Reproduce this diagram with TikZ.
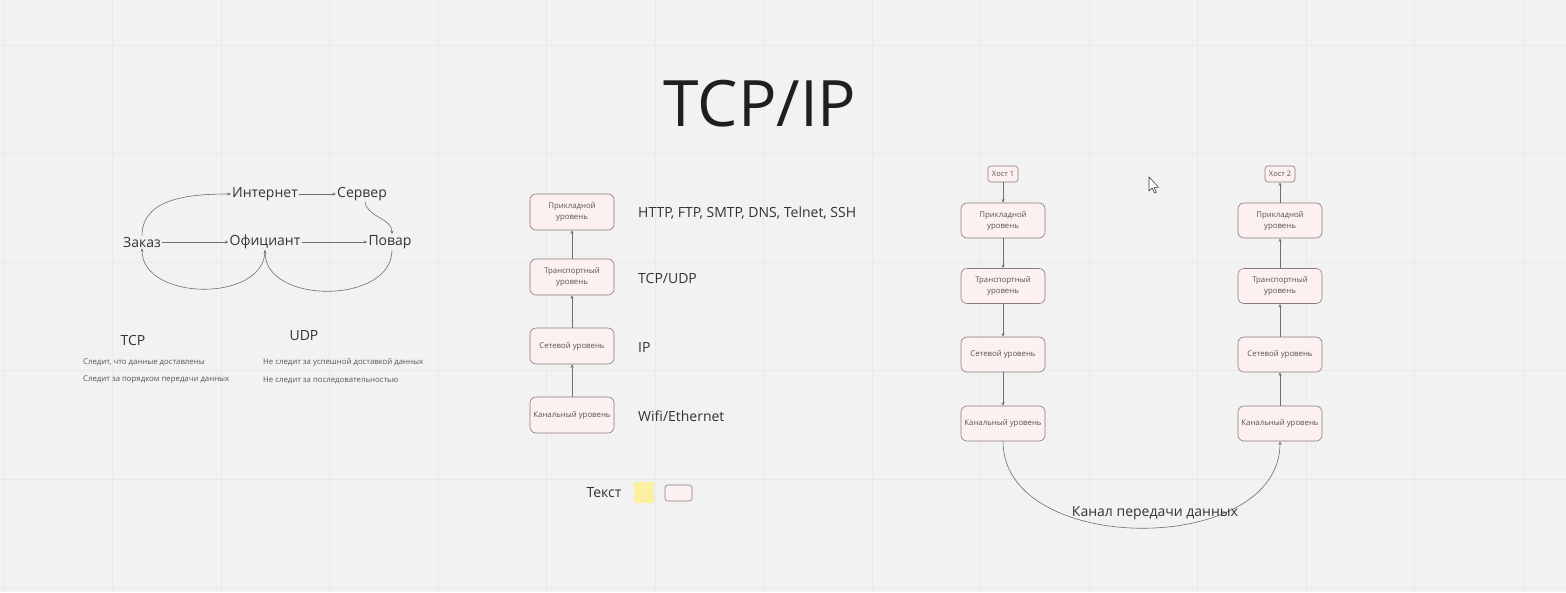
\documentclass[tikz,border=0pt]{standalone}
\usepackage{fontspec}
\setmainfont{Open Sans}
\usetikzlibrary{arrows.meta,positioning}
\definecolor{bg}{HTML}{F2F2F2}
\definecolor{gridc}{HTML}{E9E9E9}
\definecolor{linec}{HTML}{6E6E6E}
\definecolor{boxfill}{HTML}{FDF0F0}
\definecolor{boxdraw}{HTML}{8C7B7B}
\definecolor{txt}{HTML}{333333}
\definecolor{smalltxt}{HTML}{555555}
\definecolor{sticky}{HTML}{FBEFA2}
\tikzset{
  conn/.style={draw=linec, line width=0.6pt, -{Stealth[length=3.5pt,width=3pt]}},
  plainconn/.style={draw=linec, line width=0.6pt},
  word/.style={font=\fontsize{14}{16}\selectfont, text=txt, inner sep=1pt},
  label14/.style={font=\fontsize{14}{16}\selectfont, text=txt, anchor=west, inner sep=0pt},
  tiny/.style={font=\fontsize{7.8}{9}\selectfont, text=smalltxt, anchor=west, inner sep=0pt},
  layerbox/.style={draw=boxdraw, fill=boxfill, rounded corners=6pt, line width=0.6pt,
     minimum width=84pt, minimum height=36pt, align=center,
     font=\fontsize{7.8}{11}\selectfont, text=smalltxt, inner sep=1pt},
  hostbox/.style={draw=boxdraw, fill=boxfill, rounded corners=3pt, line width=0.6pt,
     minimum width=30pt, minimum height=16pt, font=\fontsize{7.5}{8}\selectfont, text=smalltxt, inner sep=1pt},
}
\begin{document}
\begin{tikzpicture}[x=1pt,y=-1pt]
\fill[bg] (0,0) rectangle (1566,592);
\useasboundingbox (0,0) rectangle (1566,592);
% faint grid
\foreach \gx in {4,112.5,221,329.5,438,546.5,655,763.5,872,980.5,1089,1197.5,1306,1414.5,1523}
  \draw[gridc, line width=0.5pt] (\gx,0) -- (\gx,592);
\foreach \gy in {45,153.5,262,370.5,479,587.5}
  \draw[gridc, line width=0.5pt] (0,\gy) -- (1566,\gy);

% title
\node[font=\fontsize{64}{70}\selectfont, text=black!88, inner sep=0pt] (title) at (760,104) {TCP/IP};

% left graph
\node[word] (zakaz) at (142,242) {Заказ};
\node[word] (ofic) at (265,242) {Официант};
\node[word] (povar) at (390,242) {Повар};
\node[word] (inet) at (265,194) {Интернет};
\node[word] (server) at (362,194) {Сервер};
\draw[conn] (zakaz) -- (ofic);
\draw[conn] (ofic) -- (povar);
\draw[conn] (inet) -- (server);
\draw[conn] (zakaz.north) to[out=90,in=180] (inet.west);
\draw[conn] ([xshift=3pt]server.south) to[out=-80,in=90] ([xshift=2pt]povar.north);
\draw[conn] (ofic.south) to[out=-90,in=-90,looseness=1.1] (zakaz.south);
\draw[conn] ([xshift=2pt]povar.south) to[out=-90,in=-90,looseness=1.1] (ofic.south);

% TCP / UDP
\node[word] (tcp) at (133,340) {TCP};
\node[word] (udp) at (304,336) {UDP};
\node[tiny] (t1) at (83,362) {Следит, что данные доставлены};
\node[tiny] (t2) at (83,380) {Следит за порядком передачи данных};
\node[tiny] (u1) at (263,362) {Не следит за успешной доставкой данных};
\node[tiny] (u2) at (263,380) {Не следит за последовательностью};

% middle stack
\node[layerbox] (mA) at (572,212) {Прикладной\\уровень};
\node[layerbox] (mT) at (572,277) {Транспортный\\уровень};
\node[layerbox] (mN) at (572,346) {Сетевой уровень};
\node[layerbox] (mL) at (572,415) {Канальный уровень};
\draw[conn] (mT) -- (mA);
\draw[conn] (mN) -- (mT);
\draw[conn] (mL) -- (mN);
\node[label14] (pA) at (638,213) {HTTP, FTP, SMTP, DNS, Telnet, SSH};
\node[label14] (pT) at (638,278) {TCP/UDP};
\node[label14] (pN) at (638,347) {IP};
\node[label14] (pL) at (638,416) {Wifi/Ethernet};

% legend
\node[word] (legtext) at (604,493) {Текст};
\node[fill=sticky, minimum width=20pt, minimum height=21pt, inner sep=0pt] (legsticky) at (644,492.5) {};
\node[draw=boxdraw, fill=boxfill, rounded corners=3pt, line width=0.6pt, minimum width=27pt, minimum height=16pt, inner sep=0pt] (legbox) at (678.5,493) {};

% host 1
\node[hostbox] (h1) at (1003,174) {Хост 1};
\node[layerbox, minimum height=35pt] (aA) at (1003,220.5) {Прикладной\\уровень};
\node[layerbox, minimum height=35pt] (aT) at (1003,286) {Транспортный\\уровень};
\node[layerbox, minimum height=35pt] (aN) at (1003,354.5) {Сетевой уровень};
\node[layerbox, minimum height=35pt] (aL) at (1003,423.5) {Канальный уровень};
\draw[conn] (h1) -- (aA);
\draw[conn] (aA) -- (aT);
\draw[conn] (aT) -- (aN);
\draw[conn] (aN) -- (aL);

% host 2
\node[hostbox] (h2) at (1280,174) {Хост 2};
\node[layerbox, minimum height=35pt] (bA) at (1280,220.5) {Прикладной\\уровень};
\node[layerbox, minimum height=35pt] (bT) at (1280,286) {Транспортный\\уровень};
\node[layerbox, minimum height=35pt] (bN) at (1280,354.5) {Сетевой уровень};
\node[layerbox, minimum height=35pt] (bL) at (1280,423.5) {Канальный уровень};
\draw[conn] (bA) -- (h2);
\draw[conn] (bT) -- (bA);
\draw[conn] (bN) -- (bT);
\draw[conn] (bL) -- (bN);

% channel
\draw[conn] (aL.south) to[out=-90,in=-90,looseness=1.07] (bL.south);
\node[word] (chan) at (1155,513) {Канал передачи данных};

% mouse cursor
\draw[fill=white, draw=black!75, line width=0.6pt, line join=round]
  (1149,177) -- (1149,191) -- (1152.2,188) -- (1154.6,193) -- (1156.4,192.2) -- (1154,187.3) -- (1158.5,187.3) -- cycle;
\end{tikzpicture}
\end{document}
